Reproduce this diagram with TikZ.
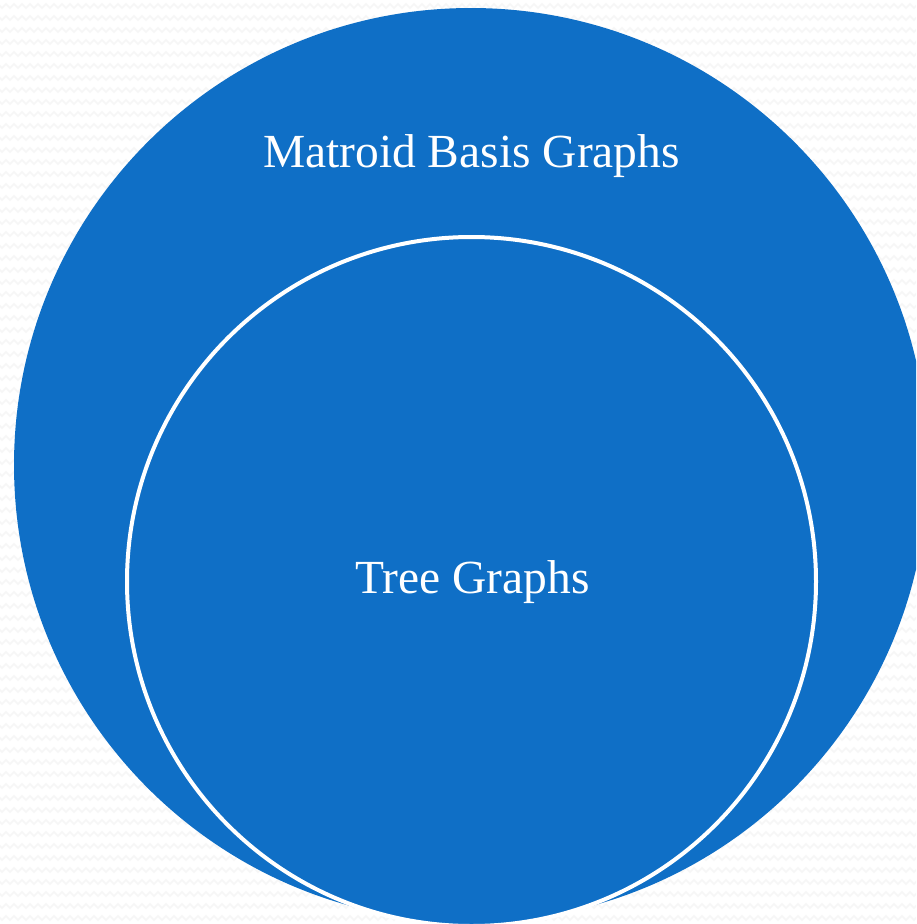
\documentclass[tikz,border=0pt]{standalone}
\usepackage{fontspec}
\setmainfont{Liberation Serif}
\usetikzlibrary{decorations.pathmorphing}
\definecolor{setblue}{HTML}{0F6FC6}

\begin{document}
\begin{tikzpicture}[x=1pt,y=1pt,
  setcircle/.style={circle,fill=setblue,inner sep=0pt,outer sep=0pt},
  setlabel/.style={text=white,anchor=base,font=\fontsize{47.5}{57}\selectfont},
  zigrow/.style={gray!7,line width=1.5pt,decorate,
    decoration={zigzag,segment length=8pt,amplitude=2pt}}]
\useasboundingbox (0,0) rectangle (916,-924);
\clip (0,0) rectangle (916,-924);

% background
\fill[white] (0,0) rectangle (916,-924);
\foreach \y in {6,18,...,930}
  \draw[zigrow] (-4,-\y) -- (920,-\y);

% sets
\node[setcircle,minimum size=914pt] (basis) at (471,-465) {};
\node[setcircle,draw=white,line width=4pt,minimum size=689pt] (tree) at (471.5,-581.5) {};

% labels
\node[setlabel] (basislabel) at (471.5,-167) {Matroid Basis Graphs};
\node[setlabel] (treelabel) at (472.5,-593) {Tree Graphs};
\end{tikzpicture}
\end{document}
